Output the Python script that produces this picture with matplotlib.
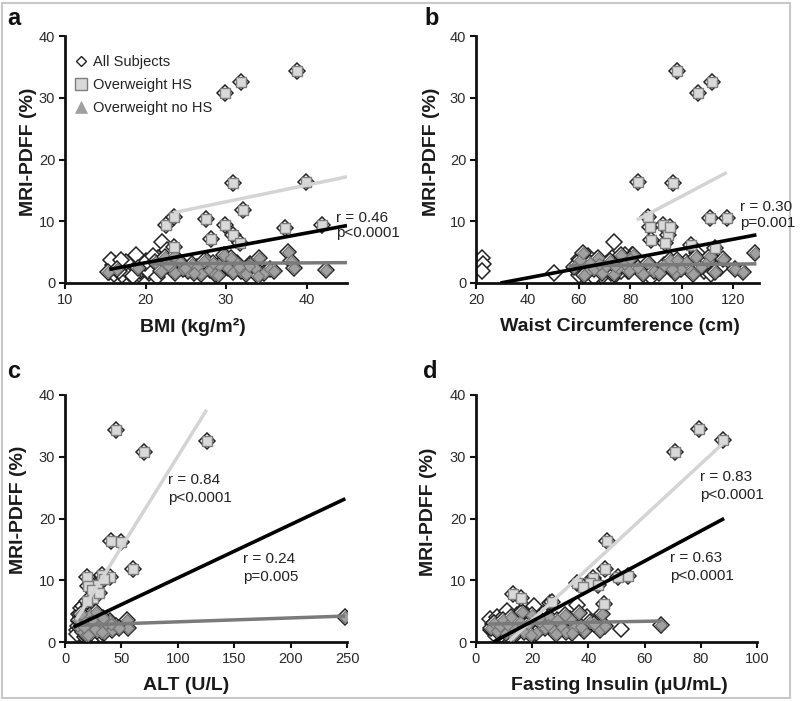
import matplotlib
matplotlib.use("Agg")
import matplotlib.pyplot as plt
from matplotlib.lines import Line2D
from matplotlib.patches import Rectangle

plt.rcParams['font.family'] = ['Liberation Sans', 'DejaVu Sans']

# ---------------- data ----------------
# Panel a: BMI (kg/m2) vs MRI-PDFF (%)
hs_x_a = [22.5, 23.5, 27.5, 32.1, 29.8, 30.8, 28.1, 23.5, 31.7, 37.3, 41.9, 38.8, 31.8, 29.8, 30.8, 39.9]
hs_y_a = [9.4, 10.7, 10.3, 11.9, 9.4, 7.8, 7.1, 5.9, 6.4, 8.9, 9.4, 34.4, 32.6, 30.8, 16.2, 16.4]
nohs_x_a = [15.3, 16.4, 19.0, 21.2, 21.9, 22.4, 23.0, 23.6, 24.1, 24.7, 25.3, 25.8, 26.4, 26.9, 27.5,
            28.0, 28.6, 29.1, 29.7, 30.2, 30.8, 31.3, 31.9, 32.5, 33.0, 33.6, 34.1, 34.7, 35.4, 22.8,
            24.9, 27.2, 29.0, 30.6, 32.8, 34.0, 37.7, 38.1, 38.4, 42.4, 26.0, 28.4, 31.6, 35.9, 23.5]
nohs_y_a = [1.8, 2.2, 2.5, 3.4, 2.0, 4.2, 2.7, 1.6, 3.5, 2.3, 1.9, 3.0, 2.6, 1.4, 3.8,
            2.1, 1.5, 2.9, 4.6, 2.4, 1.8, 3.3, 2.0, 1.4, 3.1, 2.5, 4.0, 1.7, 2.3, 2.9,
            2.4, 3.6, 1.3, 4.1, 2.7, 1.1, 5.0, 3.6, 2.5, 2.1, 1.6, 3.2, 2.6, 1.9, 4.4]
normal_x_a = [15.4, 15.8, 16.1, 16.5, 16.2, 17.0, 17.3, 17.1, 17.9, 18.2, 18.0, 18.8, 19.2, 19.5, 19.3,
              20.1, 20.4, 20.7, 21.1, 15.9, 16.7, 17.6, 18.5, 19.8, 20.3, 15.7, 18.8, 22.1, 22.7, 21.6,
              19.9, 16.9, 20.9, 21.4]
normal_y_a = [1.8, 2.3, 1.5, 2.6, 3.1, 1.9, 2.8, 1.3, 2.2, 3.3, 1.7, 2.5, 1.4, 2.9, 2.0,
              3.6, 1.6, 2.4, 3.0, 2.9, 2.0, 3.4, 1.1, 2.6, 1.9, 3.8, 4.6, 6.7, 5.4, 4.1,
              3.2, 3.7, 4.4, 1.0]
fit_hs_a = ([23.5, 45.0], [11.4, 17.2])
fit_all_a = ([15.5, 45.0], [2.2, 9.3])
fit_nohs_a = ([20.8, 45.0], [3.1, 3.3])

# Panel b: Waist circumference (cm)
hs_x_b = [98.2, 111.9, 106.3, 83.0, 96.4, 86.9, 87.6, 92.8, 94.7, 88.2, 93.4, 110.9, 117.4, 112.8, 103.7, 95.5]
hs_y_b = [34.4, 32.6, 30.8, 16.4, 16.2, 10.7, 9.1, 9.4, 7.8, 7.0, 6.4, 10.5, 10.5, 5.6, 6.2, 9.0]
nohs_x_b = [58.0, 60.5, 61.5, 63.0, 64.5, 66.0, 67.5, 69.0, 70.5, 72.0, 73.5, 75.0, 76.5, 78.0, 79.5,
            81.0, 83.0, 85.0, 87.0, 89.0, 91.0, 93.0, 95.5, 97.5, 99.5, 101.5, 103.5, 105.5, 107.5, 110.0,
            113.0, 116.0, 120.5, 123.8, 128.3, 62.0, 68.0, 74.0, 80.0, 98.0, 104.5, 111.0, 96.0]
nohs_y_b = [2.6, 3.8, 4.8, 1.8, 3.2, 2.2, 4.1, 1.6, 2.8, 3.6, 1.4, 2.5, 4.5, 3.0, 1.9,
            4.6, 2.4, 1.5, 3.3, 2.0, 1.7, 2.9, 3.7, 1.6, 2.3, 3.4, 1.9, 4.2, 2.6, 3.5,
            1.8, 3.9, 2.2, 1.8, 4.8, 1.3, 3.0, 2.7, 3.9, 3.8, 1.5, 4.3, 2.2]
normal_x_b = [22.5, 22.8, 22.3, 50.5, 73.5, 58.5, 60.2, 61.5, 62.8, 64.0, 65.3, 66.5, 67.8, 69.0, 70.5,
              71.8, 73.0, 74.5, 76.0, 77.5, 79.0, 80.5, 63.5, 68.5, 72.5, 76.5, 86.0, 88.0, 108.5, 111.5,
              115.0, 106.0, 78.0, 60.0, 66.0]
normal_y_b = [4.1, 3.0, 1.9, 1.7, 6.6, 2.5, 1.3, 3.5, 2.0, 2.9, 1.6, 3.8, 2.4, 1.2, 3.1,
              2.2, 4.0, 1.5, 2.7, 3.4, 1.9, 4.6, 4.4, 2.8, 1.7, 2.0, 1.2, 0.9, 2.0, 1.5,
              2.5, 4.8, 4.5, 3.9, 1.0]
fit_hs_b = ([82.5, 117.5], [10.2, 17.9])
fit_all_b = ([29.5, 129.0], [0.0, 7.8])
fit_nohs_b = ([56.0, 129.0], [2.8, 3.1])

# Panel c: ALT (U/L)
hs_x_c = [45.2, 70.0, 125.6, 40.8, 49.4, 60.0, 19.5, 39.5, 28.1, 25.1, 32.5, 20.7, 19.2, 24.0, 30.5, 35.0]
hs_y_c = [34.4, 30.8, 32.6, 16.4, 16.2, 11.9, 10.5, 10.5, 9.2, 7.1, 10.9, 9.0, 6.6, 8.4, 8.0, 10.2]
nohs_x_c = [12.0, 13.5, 15.0, 16.0, 17.2, 18.4, 19.6, 20.8, 22.0, 23.2, 24.5, 25.8, 27.0, 28.5, 30.0,
            31.5, 33.0, 35.0, 37.0, 39.5, 42.0, 45.0, 55.0, 55.5, 248.0, 14.2, 18.8, 21.6, 26.2, 29.4,
            32.4, 36.0, 16.8, 24.0, 20.0, 27.8, 34.0, 40.5, 48.0]
nohs_y_c = [3.5, 2.2, 4.0, 1.6, 2.9, 3.7, 1.9, 2.6, 4.3, 1.4, 3.1, 2.4, 3.8, 1.8, 2.7,
            3.3, 2.1, 1.5, 2.9, 3.4, 2.0, 2.6, 3.6, 2.3, 4.1, 4.5, 1.2, 3.2, 2.1, 4.2,
            1.7, 3.0, 2.5, 3.5, 1.1, 4.8, 3.9, 2.9, 2.2]
normal_x_c = [10.3, 11.5, 12.5, 13.2, 14.0, 14.8, 15.5, 16.2, 17.0, 17.8, 18.5, 19.5, 20.5, 21.5, 22.5,
              23.8, 25.0, 26.5, 28.0, 30.0, 12.0, 13.8, 15.8, 17.5, 19.0, 21.0, 24.0, 27.0, 11.0, 18.0,
              22.0, 16.5, 31.5, 14.5]
normal_y_c = [1.9, 2.6, 3.4, 1.5, 4.0, 2.2, 3.0, 1.2, 2.7, 3.8, 1.8, 2.4, 3.3, 1.4, 2.0,
              4.4, 2.9, 1.6, 2.2, 3.1, 4.6, 5.5, 5.8, 4.9, 5.2, 6.2, 3.6, 1.0, 1.3, 0.8,
              4.8, 2.8, 1.2, 3.9]
fit_hs_c = ([10.0, 125.6], [3.6, 37.6])
fit_all_c = ([7.5, 248.5], [2.4, 23.2])
fit_nohs_c = ([10.0, 248.5], [2.7, 4.2])

# Panel d: Fasting insulin (uU/mL)
hs_x_d = [79.5, 87.8, 70.8, 46.5, 45.9, 50.6, 54.2, 41.5, 40.6, 35.8, 45.6, 13.0, 15.9, 26.9, 38.0, 43.5]
hs_y_d = [34.5, 32.7, 30.8, 16.4, 11.9, 10.6, 10.7, 10.4, 9.5, 9.5, 6.2, 7.8, 7.2, 6.5, 8.9, 9.2]
nohs_x_d = [5.5, 6.5, 7.5, 8.5, 9.5, 10.5, 11.5, 12.5, 14.0, 15.5, 17.0, 18.5, 20.0, 21.5, 23.0,
            24.5, 26.0, 27.5, 29.0, 30.5, 32.0, 33.5, 35.0, 36.5, 38.5, 40.5, 44.0, 44.7, 46.0, 66.0,
            13.0, 16.5, 19.5, 22.5, 25.5, 28.5, 31.5, 34.0, 37.5, 42.0]
nohs_y_d = [2.2, 3.0, 1.8, 2.6, 3.5, 1.5, 2.8, 4.0, 2.1, 3.3, 1.7, 2.9, 4.4, 1.4, 3.1,
            2.3, 4.1, 1.9, 3.6, 2.5, 1.6, 3.8, 2.2, 4.7, 1.8, 3.2, 1.9, 4.6, 2.6, 2.7,
            1.2, 4.9, 1.1, 3.9, 2.8, 1.3, 4.3, 1.4, 2.4, 2.9]
normal_x_d = [5.0, 5.5, 6.2, 6.8, 7.5, 8.2, 9.0, 9.8, 10.5, 11.5, 12.5, 13.5, 14.5, 16.0, 17.5,
              19.0, 20.5, 22.0, 24.0, 26.5, 29.0, 6.5, 9.5, 17.0, 21.0, 27.0, 51.5, 11.0, 14.0, 7.0,
              36.0, 39.5]
normal_y_d = [3.8, 2.0, 2.9, 1.5, 4.0, 2.4, 1.2, 3.2, 2.0, 3.5, 1.6, 2.7, 4.3, 2.2, 5.5,
              3.1, 5.8, 2.5, 4.6, 6.3, 3.4, 3.0, 4.1, 4.6, 3.7, 2.9, 2.1, 5.0, 1.2, 1.0,
              6.0, 4.0]
fit_hs_d = ([12.0, 88.0], [0.2, 32.2])
fit_all_d = ([6.2, 88.3], [0.0, 20.0])
fit_nohs_d = ([4.5, 66.0], [2.9, 3.4])

x_labels = ['BMI (kg/m²)', 'Waist Circumference (cm)', 'ALT (U/L)', 'Fasting Insulin (μU/mL)']
y_label = 'MRI-PDFF (%)'
panel_letters = ['a', 'b', 'c', 'd']
x_limits = [(10, 45), (20, 130), (0, 250), (0, 100)]
x_ticks = [[10, 20, 30, 40], [20, 40, 60, 80, 100, 120], [0, 50, 100, 150, 200, 250], [0, 20, 40, 60, 80, 100]]
y_ticks = [0, 10, 20, 30, 40]
legend_labels = ['All Subjects', 'Overweight HS', 'Overweight no HS']

# stats annotations: (text, x_px, baseline_px)
stats_a = [('r = 0.46', 336, 222), ('p<0.0001', 336, 237)]
stats_b = [('r = 0.30', 740, 211), ('p=0.001', 740, 227)]
stats_c = [('r = 0.84', 168, 484), ('p<0.0001', 168, 502), ('r = 0.24', 243, 563), ('p=0.005', 243, 581)]
stats_d = [('r = 0.83', 700, 481), ('p<0.0001', 700, 499), ('r = 0.63', 670, 562), ('p<0.0001', 670, 580)]

# ---------------- styling ----------------
W, H = 800, 701
fig = plt.figure(figsize=(W / 100, H / 100), dpi=100)

boxes = [(65, 347, 36, 283), (476, 759, 36, 283), (65, 347, 395, 642), (476, 757, 395, 642)]
ylab_x = [-0.099, -0.127, -0.135, -0.139]
ylab_y = [0.53, 0.53, 0.534, 0.526]
xlab_x = [0.452, 0.509, 0.429, 0.509]
letter_pos = [(7, 25), (424, 25), (7, 378), (423, 378)]

C_HS_FACE = '#d9d9d9'
C_HS_EDGE = '#7d7d7d'
C_NO_FACE = '#a0a0a0'
C_NO_EDGE = '#737373'
C_ALL_EDGE = '#222222'

panels = [
    (hs_x_a, hs_y_a, nohs_x_a, nohs_y_a, normal_x_a, normal_y_a, fit_hs_a, fit_all_a, fit_nohs_a, stats_a),
    (hs_x_b, hs_y_b, nohs_x_b, nohs_y_b, normal_x_b, normal_y_b, fit_hs_b, fit_all_b, fit_nohs_b, stats_b),
    (hs_x_c, hs_y_c, nohs_x_c, nohs_y_c, normal_x_c, normal_y_c, fit_hs_c, fit_all_c, fit_nohs_c, stats_c),
    (hs_x_d, hs_y_d, nohs_x_d, nohs_y_d, normal_x_d, normal_y_d, fit_hs_d, fit_all_d, fit_nohs_d, stats_d),
]

for i, (hx, hy, nx, ny, ox, oy, fhs, fall, fno, stats) in enumerate(panels):
    l, r, t, b = boxes[i]
    ax = fig.add_axes([l / W, 1 - b / H, (r - l) / W, (b - t) / H])
    all_x = ox + nx + hx
    all_y = oy + ny + hy
    ax.plot(all_x, all_y, linestyle='none', marker='D', ms=8.0, mfc='white',
            mec=C_ALL_EDGE, mew=1.1, zorder=2)
    ax.plot(nx, ny, linestyle='none', marker='D', ms=6.5, mfc=C_NO_FACE,
            mec=C_NO_EDGE, mew=0.8, zorder=3)
    ax.plot(hx, hy, linestyle='none', marker='s', ms=7.2, mfc=C_HS_FACE,
            mec=C_HS_EDGE, mew=1.0, zorder=4)
    ax.plot(fhs[0], fhs[1], color='#d4d4d4', lw=2.5, zorder=5, solid_capstyle='butt')
    ax.plot(fall[0], fall[1], color='black', lw=2.6, zorder=6, solid_capstyle='butt')
    ax.plot(fno[0], fno[1], color='#7a7a7a', lw=2.5, zorder=5, solid_capstyle='butt')

    ax.set_xlim(*x_limits[i])
    ax.set_ylim(0, 40)
    ax.set_xticks(x_ticks[i])
    ax.set_yticks(y_ticks)
    for s in ['top', 'right']:
        ax.spines[s].set_visible(False)
    for s in ['left', 'bottom']:
        ax.spines[s].set_linewidth(2.0)
        ax.spines[s].set_color('#111111')
    ax.tick_params(direction='out', length=4, width=1.5, colors='#111111',
                   labelsize=10.5, labelcolor='#2a2a2a', pad=3)
    ax.set_xlabel(x_labels[i], fontsize=14, fontweight='bold', color='#1a1a1a')
    ax.set_ylabel(y_label, fontsize=14, fontweight='bold', color='#1a1a1a')
    ax.xaxis.set_label_coords(xlab_x[i], -0.142)
    ax.yaxis.set_label_coords(ylab_x[i], ylab_y[i])

    for txt, px, py in stats:
        fig.text(px / W, 1 - py / H, txt, fontsize=11, color='#222222', ha='left', va='baseline')
    lx, ly = letter_pos[i]
    fig.text(lx / W, 1 - ly / H, panel_letters[i], fontsize=17, fontweight='bold',
             ha='left', va='baseline', color='#111111')

    if i == 0:
        handles = [
            Line2D([], [], linestyle='none', marker='D', ms=5.5, mfc='white', mec=C_ALL_EDGE, mew=1.0),
            Line2D([], [], linestyle='none', marker='s', ms=8, mfc=C_HS_FACE, mec=C_HS_EDGE, mew=1.0),
            Line2D([], [], linestyle='none', marker='^', ms=8, mfc=C_NO_FACE, mec=C_NO_FACE, mew=0.5),
        ]
        ax.legend(handles, legend_labels, loc='upper left', bbox_to_anchor=(0.0, 0.965),
                  frameon=False, fontsize=10.5, handlelength=0.8, handletextpad=0.4,
                  labelspacing=0.62, borderaxespad=0.3, labelcolor='#222222')

# light gray frame around the figure
fig.patches.append(Rectangle((2 / W, 3 / H), 788 / W, 695 / H, transform=fig.transFigure,
                             fill=False, edgecolor='#c8c8c8', lw=1.5))

fig.savefig('out.png', dpi=100)
